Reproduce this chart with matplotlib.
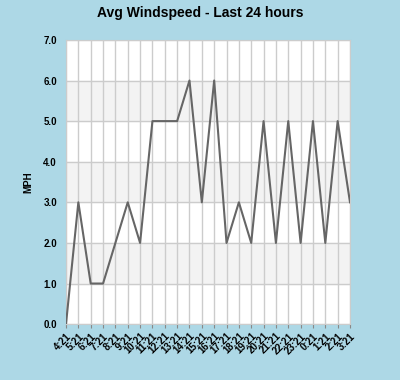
import matplotlib
matplotlib.use("Agg")
import matplotlib.pyplot as plt

hours = ["4:21", "5:21", "6:21", "7:21", "8:21", "9:21", "10:21", "11:21",
         "12:21", "13:21", "14:21", "15:21", "16:21", "17:21", "18:21", "19:21",
         "20:21", "21:21", "22:21", "23:21", "0:21", "1:21", "2:21", "3:21"]
windspeed = [0, 3, 1, 1, 2, 3, 2, 5, 5, 5, 6, 3, 6, 2, 3, 2, 5, 2, 5, 2, 5, 2, 5, 3]
y_ticks = [0, 1, 2, 3, 4, 5, 6, 7]
bands = [(1, 2), (3, 4), (5, 6)]

plt.rcParams['font.family'] = ['Liberation Sans', 'DejaVu Sans']

fig = plt.figure(figsize=(4, 3.8), dpi=100, facecolor='#add8e6')
ax = fig.add_axes([0.165, 0.147, 0.71, 0.748])
ax.set_facecolor('white')

# alternating grey bands
for lo, hi in bands:
    ax.axhspan(lo, hi, color='#f3f3f3', zorder=0)

x = list(range(len(hours)))
ax.plot(x, windspeed, color='#666666', linewidth=1.5, zorder=3)

ax.set_xlim(0, len(hours) - 1)
ax.set_ylim(0, 7)
ax.set_xticks(x)
ax.set_xticklabels(hours, rotation=45, ha='right', va='top', fontsize=7,
                   fontweight='bold', rotation_mode='anchor')
ax.set_yticks(y_ticks)
ax.set_yticklabels([f"{v:.1f}" for v in y_ticks], fontsize=7, fontweight='bold')
ax.tick_params(axis='y', length=0, pad=6.5)
ax.tick_params(axis='x', length=3, color='#888888', pad=2)

ax.grid(True, color='#cccccc', linewidth=1, zorder=1)
ax.set_axisbelow(True)
for s in ax.spines.values():
    s.set_color('#cccccc')

ax.set_ylabel("MPH", fontsize=7, fontweight='bold', labelpad=7)
fig.suptitle("Avg Windspeed - Last 24 hours", fontsize=10, fontweight='bold', y=0.985)

fig.savefig("out.png", dpi=100, facecolor=fig.get_facecolor())
